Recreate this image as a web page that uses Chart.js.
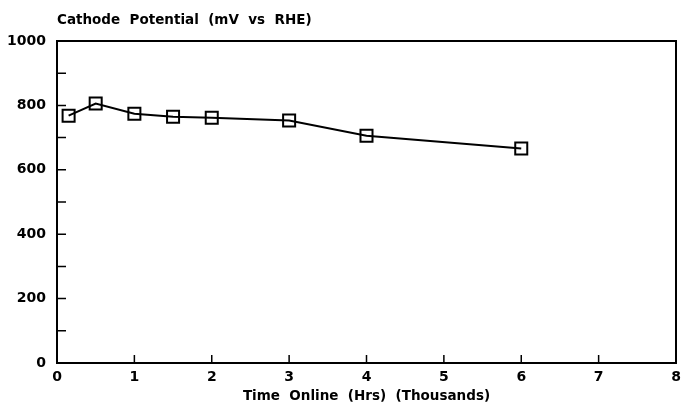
<!DOCTYPE html>
<html lang="en">
<head>
  <meta charset="UTF-8">
  <title>Cathode Potential</title>
  <script src="https://cdn.jsdelivr.net/npm/chart.js"></script>
  <style>
    html, body { margin: 0; padding: 0; background: #fff; }
    #chartContainer { width: 682px; height: 405px; }
  </style>
</head>
<body>
  <div id="chartContainer">
    <canvas id="myChart"></canvas>
  </div>

  <script>
    // time online, thousands of hours
    const timeK = [0.15, 0.5, 1, 1.5, 2, 3, 4, 6];
    // cathode potential, mV vs RHE
    const potential = [768, 806, 774, 765, 762, 753, 706, 666];

    const titleText = 'Cathode  Potential  (mV  vs  RHE)';
    const xTitle = 'Time  Online  (Hrs)  (Thousands)';
    const fontFamily = '"DejaVu Sans", sans-serif';

    // frame, inward ticks and top-left title
    const framePlugin = {
      id: 'frame',
      afterDraw(chart) {
        const ctx = chart.ctx;
        const a = chart.chartArea;
        const xs = chart.scales.x;
        const ys = chart.scales.y;
        ctx.save();
        ctx.strokeStyle = '#000';
        ctx.lineWidth = 2;
        ctx.strokeRect(a.left, a.top, a.right - a.left, a.bottom - a.top);

        ctx.lineWidth = 1.5;
        ctx.beginPath();
        xs.ticks.forEach(t => {
          if (t.value <= xs.min || t.value >= xs.max) return;
          const px = xs.getPixelForValue(t.value);
          ctx.moveTo(px, a.bottom);
          ctx.lineTo(px, a.bottom - 8);
        });
        ys.ticks.forEach(t => {
          if (t.value <= ys.min || t.value >= ys.max) return;
          const py = ys.getPixelForValue(t.value);
          ctx.moveTo(a.left, py);
          ctx.lineTo(a.left + 9, py);
        });
        ctx.stroke();

        ctx.fillStyle = '#000';
        ctx.font = 'bold 13.5px ' + fontFamily;
        ctx.textBaseline = 'middle';
        ctx.textAlign = 'left';
        ctx.fillText(titleText, a.left, 20);
        ctx.restore();
      }
    };

    const ctx = document.getElementById('myChart').getContext('2d');
    const myChart = new Chart(ctx, {
      type: 'scatter',
      data: {
        datasets: [{
          data: timeK.map((t, i) => ({ x: t, y: potential[i] })),
          showLine: true,
          borderColor: '#000',
          borderWidth: 2,
          backgroundColor: '#fff',
          pointStyle: 'rect',
          pointRadius: 8.5,
          pointBorderWidth: 2,
          pointBorderColor: '#000',
          pointBackgroundColor: 'rgba(255,255,255,0)',
          tension: 0
        }]
      },
      options: {
        responsive: true,
        maintainAspectRatio: false,
        animation: false,
        layout: {
          autoPadding: false,
          padding: { top: 41, right: 6, left: 0, bottom: 0 }
        },
        plugins: {
          legend: { display: false },
          tooltip: { enabled: false }
        },
        scales: {
          x: {
            type: 'linear',
            min: 0,
            max: 8,
            grid: { display: false, drawTicks: false },
            border: { display: false },
            ticks: {
              stepSize: 1,
              padding: 6,
              color: '#000',
              font: { family: fontFamily, size: 14, weight: 'bold' }
            },
            title: {
              display: true,
              text: xTitle,
              color: '#000',
              padding: { top: 0, bottom: 0 },
              font: { family: fontFamily, size: 13.5, weight: 'bold' }
            },
            afterFit(scale) {
              scale.height = 42;
              scale.paddingRight = 0;
              scale.paddingLeft = 0;
            }
          },
          y: {
            min: 0,
            max: 1000,
            grid: { display: false, drawTicks: false },
            border: { display: false },
            ticks: {
              stepSize: 100,
              padding: 11,
              color: '#000',
              font: { family: fontFamily, size: 14, weight: 'bold' },
              callback: v => (v % 200 === 0 ? v : '')
            },
            afterFit(scale) {
              scale.width = 57;
              scale.paddingTop = 0;
              scale.paddingBottom = 0;
            }
          }
        }
      },
      plugins: [framePlugin]
    });
  </script>
</body>
</html>
